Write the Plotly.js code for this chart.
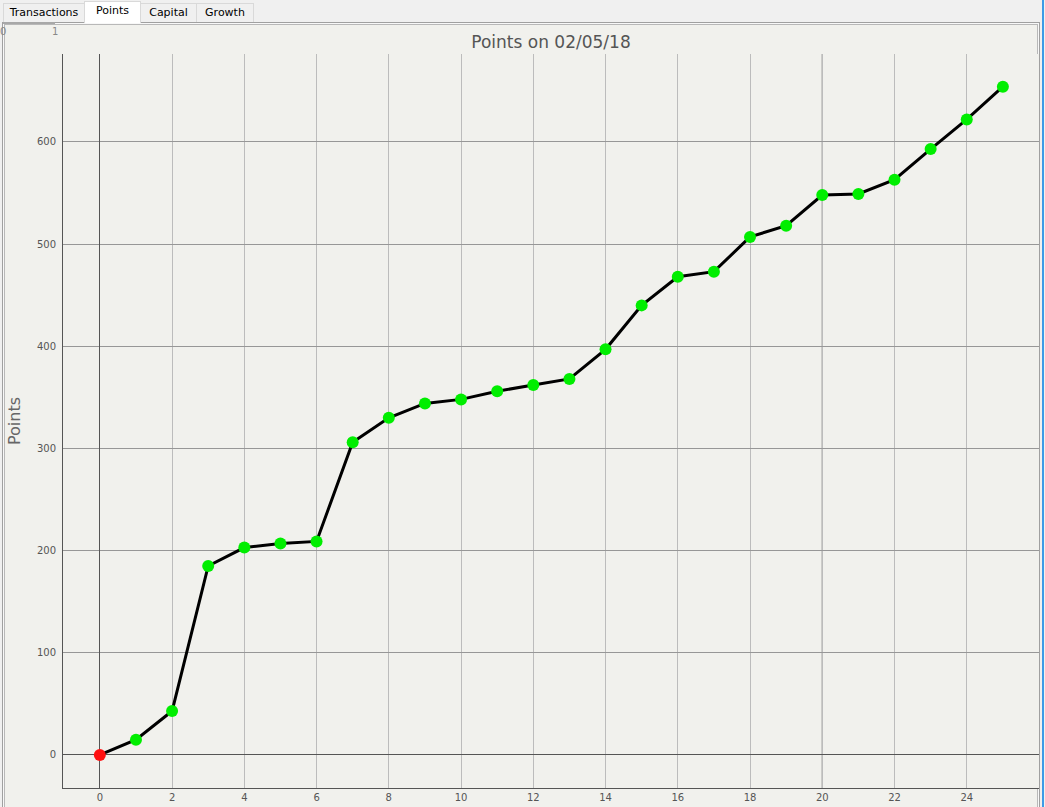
<!DOCTYPE html>
<html>
<head>
<meta charset="utf-8">
<script src="https://cdn.plot.ly/plotly-3.0.1.min.js"></script>
<style>
  html, body { margin:0; padding:0; width:1045px; height:807px; overflow:hidden; background:#f0f0f0; font-family:"DejaVu Sans", sans-serif; }
  #tabs { position:absolute; left:3px; top:1px; height:21px; }
  .tab { position:absolute; top:2px; height:18px; border:1px solid #d9d9d9; border-bottom:none; background:#f0f0f0; font-size:11px; color:#000; text-align:center; line-height:18px; box-sizing:content-box; }
  .tab.sel { top:0px; height:21px; background:#ffffff; border-color:#d9d9d9; z-index:2; }
  #panel { position:absolute; left:2px; top:22px; width:1036px; height:790px; border:1px solid #a0a0a0; background:#f1f1ed; box-shadow: inset 0 0 0 1px #f8f8f8, inset 0 0 0 2px #b8b8b8; }
  #bluebar { position:absolute; left:1042px; top:0; width:2px; height:807px; background:#3c9be6; }
  #ruler { position:absolute; left:3px; top:22px; width:52px; height:2px; background:#a8a8a8; }
  .rl { position:absolute; top:26px; font-size:10px; color:#888; }
  #chart { position:absolute; left:0; top:0; width:1045px; height:807px; }
</style>
</head>
<body>
<div id="panel"></div>
<div id="ruler"></div>
<div class="rl" style="left:0px;">0</div>
<div class="rl" style="left:52px;">1</div>
<div id="tabs">
  <div class="tab" style="left:0px;width:80px;">Transactions</div>
  <div class="tab sel" style="left:81px;width:55px;">Points</div>
  <div class="tab" style="left:137px;width:55px;">Capital</div>
  <div class="tab" style="left:193px;width:56px;">Growth</div>
</div>
<div id="bluebar"></div>
<div id="chart"></div>
<script>
  // Data
  const xValues = [0,1,2,3,4,5,6,7,8,9,10,11,12,13,14,15,16,17,18,19,20,21,22,23,24,25];
  const pointsValues = [0,15,43,185,203,207,209,306,330,344,348,356,362,368,397,440,468,473,507,518,548,549,563,593,622,654];
  const chartTitle = "Points on 02/05/18";
  const yTitle = "Points";
  const xTicks = [0,2,4,6,8,10,12,14,16,18,20,22,24];
  const yTicks = [0,100,200,300,400,500,600];

  const markerColors = pointsValues.map((v, i) => i === 0 ? '#ff1010' : '#00ee00');

  const trace = {
    x: xValues,
    y: pointsValues,
    type: 'scatter',
    mode: 'lines+markers',
    line: { color: '#000000', width: 3 },
    marker: { color: markerColors, size: 12, line: { width: 0 } },
    hoverinfo: 'x+y'
  };

  const layout = {
    width: 1045,
    height: 807,
    margin: { l: 63, r: 6, t: 54, b: 19, pad: 0 },
    paper_bgcolor: 'rgba(0,0,0,0)',
    plot_bgcolor: '#f1f1ed',
    showlegend: false,
    title: {
      text: chartTitle,
      font: { family: 'DejaVu Sans, sans-serif', size: 17, color: '#555555' },
      x: 0.5, xref: 'paper', xanchor: 'center',
      y: 1, yref: 'paper', yanchor: 'bottom', pad: { b: 6 }
    },
    xaxis: {
      range: [-1.02, 26.0],
      tickmode: 'array',
      tickvals: xTicks,
      ticktext: xTicks.map(String),
      ticks: '',
      tickfont: { family: 'DejaVu Sans, sans-serif', size: 10, color: '#555555' },
      showgrid: true,
      gridcolor: '#bcbcbc',
      gridwidth: 1,
      zeroline: true,
      zerolinecolor: '#555555',
      zerolinewidth: 1,
      showline: true,
      linecolor: '#555555',
      linewidth: 1,
      mirror: false,
      fixedrange: true
    },
    yaxis: {
      range: [-32.3, 686],
      tickmode: 'array',
      tickvals: yTicks,
      ticktext: yTicks.map(String),
      ticks: '',
      ticklabelstandoff: 4,
      tickfont: { family: 'DejaVu Sans, sans-serif', size: 10, color: '#555555' },
      showgrid: true,
      gridcolor: '#979797',
      gridwidth: 1,
      zeroline: true,
      zerolinecolor: '#555555',
      zerolinewidth: 1,
      showline: true,
      linecolor: '#555555',
      linewidth: 1,
      title: {
        text: yTitle,
        font: { family: 'DejaVu Sans, sans-serif', size: 16, color: '#666666' },
        standoff: 12
      },
      fixedrange: true
    },
    shapes: [
      { type: 'line', xref: 'x', yref: 'paper', x0: 20, x1: 20, y0: 0, y1: 1,
        line: { color: '#555555', width: 1 }, layer: 'below' }
    ]
  };

  Plotly.newPlot('chart', [trace], layout, { displayModeBar: false, staticPlot: true });
</script>
</body>
</html>
